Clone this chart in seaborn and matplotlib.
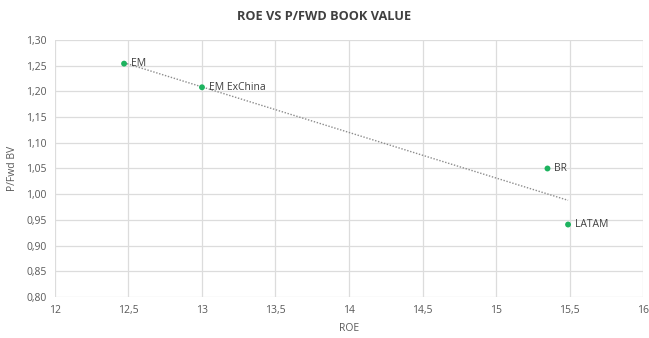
import matplotlib
matplotlib.use("Agg")
import matplotlib.pyplot as plt
import seaborn as sns
import pandas as pd
import numpy as np

# Regions and their ROE / price-to-forward-book values
regions = ["EM", "EM ExChina", "BR", "LATAM"]
roe = [12.47, 13.0, 15.35, 15.49]
pbv = [1.254, 1.208, 1.050, 0.941]

x_ticks = [12, 12.5, 13, 13.5, 14, 14.5, 15, 15.5, 16]
x_tick_labels = ["12", "12,5", "13", "13,5", "14", "14,5", "15", "15,5", "16"]
y_ticks = [0.80, 0.85, 0.90, 0.95, 1.00, 1.05, 1.10, 1.15, 1.20, 1.25, 1.30]
y_tick_labels = ["0,80", "0,85", "0,90", "0,95", "1,00", "1,05", "1,10",
                 "1,15", "1,20", "1,25", "1,30"]

df = pd.DataFrame({"region": regions, "ROE": roe, "PBV": pbv})

sns.set_theme(style="white")
plt.rcParams["font.family"] = ["Open Sans", "DejaVu Sans"]

fig = plt.figure(figsize=(6.49, 3.38), dpi=100)
ax = fig.add_axes([0.0847, 0.1213, 0.9061, 0.7604])

text_col = "#595959"
grid_col = "#dcdcdc"
green = "#1db35f"

# Linear trend line
sns.regplot(data=df, x="ROE", y="PBV", ax=ax, scatter=False, ci=None,
            line_kws={"color": "#8c8c8c", "lw": 1.0, "ls": (0, (1, 1.2))})
sns.scatterplot(data=df, x="ROE", y="PBV", ax=ax, color=green, s=18,
                edgecolor="none", zorder=5)

for name, xv, yv in zip(regions, roe, pbv):
    ax.annotate(name, (xv, yv), xytext=(5, 0), textcoords="offset points",
                va="center", ha="left", fontsize=7.5, color="#404040")

ax.set_xlim(12, 16)
ax.set_ylim(0.80, 1.30)
ax.set_xticks(x_ticks)
ax.set_xticklabels(x_tick_labels)
ax.set_yticks(y_ticks)
ax.set_yticklabels(y_tick_labels)
ax.tick_params(axis="both", length=0, labelsize=7.5, colors=text_col, pad=6)
ax.grid(True, color=grid_col, lw=0.9)
ax.set_axisbelow(True)
for s in ax.spines.values():
    s.set_visible(False)

ax.set_xlabel("ROE", fontsize=7.5, color=text_col, labelpad=5)
ax.set_ylabel("P/Fwd BV", fontsize=7.5, color=text_col, labelpad=6)
fig.text(0.5, 0.95, "ROE VS P/FWD BOOK VALUE", ha="center", va="center",
         fontsize=9.2, fontweight="bold", color="#404040")

fig.savefig("out.png", dpi=100, facecolor="white")
